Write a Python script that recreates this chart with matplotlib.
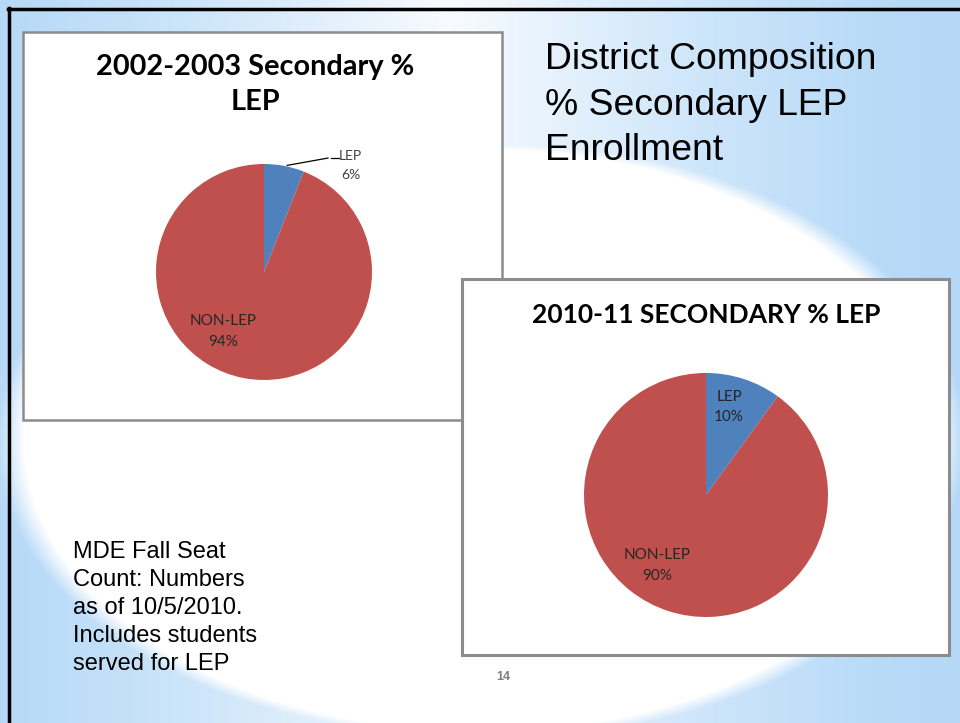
"""
District Composition - % Secondary LEP Enrollment (two pie charts on a slide)
"""
import numpy as np
import matplotlib
matplotlib.use('Agg')
import matplotlib.pyplot as plt
from matplotlib.patches import Rectangle

# ========== data ==========
labels = ['LEP', 'NON-LEP']
pct_2002 = [6, 94]
pct_2010 = [10, 90]
title_2002 = '2002-2003 Secondary %\nLEP'
title_2010 = '2010-11 SECONDARY % LEP'
slide_title = 'District Composition\n% Secondary LEP\nEnrollment'
note_text = 'MDE Fall Seat\nCount: Numbers\nas of 10/5/2010.\nIncludes students\nserved for LEP'
page_no = '14'

colors = ['#4F81BD', '#C0504D']
W, H = 960, 723

fig = plt.figure(figsize=(W / 100, H / 100), dpi=100)


def box(x, y, w, h):
    # pixel box (top-left origin) -> figure fraction rect
    return [x / W, 1 - (y + h) / H, w / W, h / H]


def fx(x):
    return x / W


def fy(y):
    return 1 - y / H


# ========== slide background ==========
bg = fig.add_axes([0, 0, 1, 1])
yy, xx = np.mgrid[0:H, 0:W]
r = np.sqrt(((xx - 480) / 470.0) ** 2 + ((yy - 440) / 300.0) ** 2)
w_ell = np.clip((1.03 - r) / 0.06, 0, 1)
# soft horizontal fade towards the middle
w_mid = np.clip(1 - np.abs(xx - 450) / 480.0, 0, 1) ** 1.3
w = np.maximum(w_ell, w_mid * 0.9)
blue = np.array([0.71, 0.85, 0.97])
img = blue[None, None, :] * (1 - w[..., None]) + w[..., None]
bg.imshow(img, extent=[0, W, H, 0], aspect='auto')
bg.set_xlim(0, W)
bg.set_ylim(H, 0)
bg.axis('off')
# black frame on top and left
bg.plot([8, W], [9, 9], color='black', lw=2.5)
bg.plot([9, 9], [8, H], color='black', lw=2.5)

# chart boxes
bg.add_patch(Rectangle((23, 32), 479, 388, facecolor='white', edgecolor='#8c8c8c', lw=1.8))
bg.add_patch(Rectangle((462, 279), 487, 376, facecolor='white', edgecolor='#8c8c8c', lw=2.2, zorder=3))

# ========== left pie (2002-2003) ==========
ax1 = fig.add_axes(box(156, 164, 216, 216))
ax1.pie(pct_2002, colors=colors, startangle=90, counterclock=False,
        radius=1, wedgeprops=dict(linewidth=0))
ax1.set_xlim(-1, 1)
ax1.set_ylim(-1, 1)
ax1.set_aspect('equal')
ax1.axis('off')
mid = np.deg2rad(90 - pct_2002[0] * 3.6 / 2)
ax1.annotate('', xy=(np.cos(mid), np.sin(mid)), xytext=(0.62, 1.06),
             arrowprops=dict(arrowstyle='-', color='black', lw=0.9), annotation_clip=False)
ax1.plot([0.62, 0.69], [1.06, 1.06], color='black', lw=0.9, clip_on=False)
ax1.text(0.80, 0.99, f'{labels[0]}\n{pct_2002[0]}%', ha='center', va='center',
         fontsize=10, family='Lato', color='#404040', linespacing=1.7)
ax1.text(-0.38, -0.55, f'{labels[1]}\n{pct_2002[1]}%', ha='center', va='center',
         fontsize=11, family='Lato', color='#262626', linespacing=1.65)

fig.text(fx(255), fy(110), title_2002, ha='center', va='baseline', fontsize=20.8,
         fontweight='bold', family='Lato', linespacing=1.45)

# ========== right pie (2010-11) ==========
ax2 = fig.add_axes(box(584, 373, 244, 244))
ax2.set_zorder(5)
ax2.pie(pct_2010, colors=colors, startangle=90, counterclock=False,
        radius=1, wedgeprops=dict(linewidth=0))
ax2.set_xlim(-1, 1)
ax2.set_ylim(-1, 1)
ax2.set_aspect('equal')
ax2.axis('off')
ax2.text(0.19, 0.72, f'{labels[0]}\n{pct_2010[0]}%', ha='center', va='center',
         fontsize=11, family='Lato', color='#262626', linespacing=1.55)
ax2.text(-0.40, -0.58, f'{labels[1]}\n{pct_2010[1]}%', ha='center', va='center',
         fontsize=11, family='Lato', color='#262626', linespacing=1.65)

t2 = fig.text(fx(706), fy(323), title_2010, ha='center', va='baseline', fontsize=19,
              fontweight='bold', family='Lato')
t2.set_zorder(6)

# ========== slide texts ==========
fig.text(fx(545), fy(160), slide_title, ha='left', va='baseline', fontsize=26.8,
         family='Liberation Sans', linespacing=1.38)
fig.text(fx(73), fy(670), note_text, ha='left', va='baseline', fontsize=17,
         family='Liberation Sans', linespacing=1.35)
fig.text(fx(503), fy(680), page_no, ha='center', va='baseline', fontsize=9,
         fontweight='bold', family='Liberation Sans', color='#7f7f7f')

plt.savefig('out.png', dpi=100)
